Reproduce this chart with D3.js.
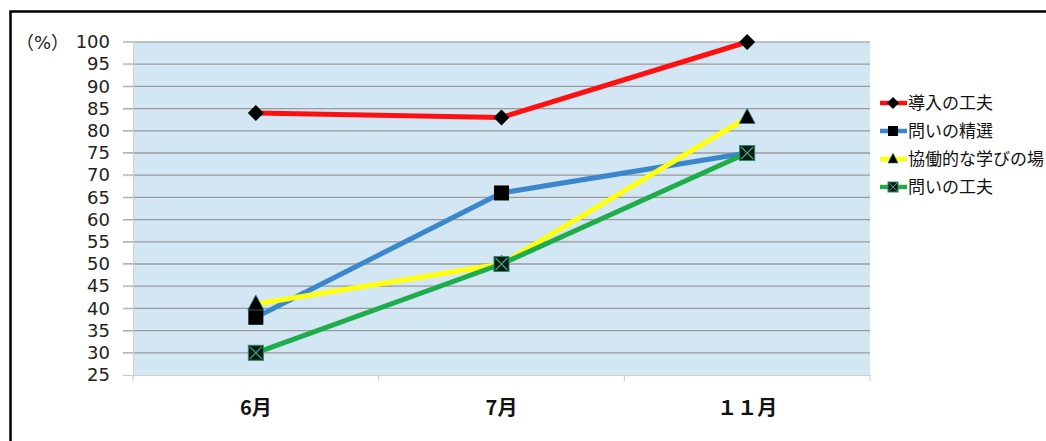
<!DOCTYPE html>
<html>
<head>
<meta charset="utf-8">
<script src="https://cdn.jsdelivr.net/npm/d3@7"></script>
<style>
  body { margin: 0; background: #fff; }
</style>
</head>
<body>
<script>
const months = ["6月", "7月", "１１月"];
const seriesNames = ["導入の工夫", "問いの精選", "協働的な学びの場", "問いの工夫"];
const dounyu = [84, 83, 100];
const seisen = [38, 66, 75];
const kyodo = [41, 50, 83];
const kufu = [30, 50, 75];
const yTicks = d3.range(25, 101, 5);

const W = 1046, H = 441;
const plotL = 133, plotR = 870, plotT = 42, plotB = 375;
const jpFont = "'Noto Sans CJK JP', sans-serif";

const series = [
  {name: seriesNames[0], values: dounyu, color: "#ff1010", marker: "diamond"},
  {name: seriesNames[1], values: seisen, color: "#3a87cc", marker: "square"},
  {name: seriesNames[2], values: kyodo, color: "#ffff10", marker: "triangle"},
  {name: seriesNames[3], values: kufu, color: "#1fad4c", marker: "xsquare"}
];

const svg = d3.select("body").append("svg")
  .attr("width", W).attr("height", H);

// frame
svg.append("path")
  .attr("d", `M10.5,${H} V11.5 H${W}`)
  .attr("fill", "none").attr("stroke", "#000").attr("stroke-width", 2.5);

const x = d3.scaleBand().domain(months).range([plotL, plotR]);
const y = d3.scaleLinear().domain([25, 100]).range([plotB, plotT]);

svg.append("rect")
  .attr("x", plotL).attr("y", plotT)
  .attr("width", plotR - plotL).attr("height", plotB - plotT)
  .attr("fill", "#d3e6f4");

// grid
svg.append("g").selectAll("line").data(yTicks.filter(d => d > 25)).join("line")
  .attr("x1", plotL - 10).attr("x2", plotR)
  .attr("y1", d => y(d)).attr("y2", d => y(d))
  .attr("stroke", d => d === 100 ? "#b0b0b0" : "#9a9a9a").attr("stroke-width", 1.3);

// y axis labels
const yAxis = svg.append("g").attr("transform", `translate(${plotL},0)`)
  .call(d3.axisLeft(y).tickValues(yTicks).tickSize(10).tickPadding(13));
yAxis.attr("font-family", "'DejaVu Sans', sans-serif").attr("font-size", 18);
yAxis.select(".domain").attr("stroke", "#d0d0d0");
yAxis.selectAll(".tick line").attr("stroke", "#c8c8c8");
yAxis.selectAll("text").attr("fill", "#222");

// unit label (%)
const unit = svg.append("text").attr("x", 16).attr("y", 49)
  .attr("font-size", 18).attr("fill", "#222");
unit.append("tspan").attr("font-family", jpFont).text("（");
unit.append("tspan").attr("font-family", "'DejaVu Sans', sans-serif").text("%");
unit.append("tspan").attr("font-family", jpFont).text("）");

// x axis
const xAxis = svg.append("g").attr("transform", `translate(0,${plotB})`)
  .call(d3.axisBottom(x).tickSize(0).tickPadding(26));
xAxis.attr("font-family", jpFont).attr("font-size", 20);
xAxis.select(".domain").attr("stroke", "#d0d0d0");
xAxis.selectAll("text").attr("font-weight", "bold").attr("fill", "#111");
svg.append("g").selectAll("line").data(d3.range(months.length + 1)).join("line")
  .attr("x1", i => plotL + i * x.bandwidth()).attr("x2", i => plotL + i * x.bandwidth())
  .attr("y1", plotB).attr("y2", plotB + 6)
  .attr("stroke", "#c8c8c8");

const cx = m => x(m) + x.bandwidth() / 2;
const line = d3.line().x((d, i) => cx(months[i])).y(d => y(d));

function drawMarker(g, type, px, py) {
  if (type === "diamond") {
    g.append("path").attr("d", `M${px},${py - 8} L${px + 8},${py} L${px},${py + 8} L${px - 8},${py} Z`)
      .attr("fill", "#000");
  } else if (type === "square") {
    g.append("rect").attr("x", px - 7.5).attr("y", py - 7.5).attr("width", 15).attr("height", 15)
      .attr("fill", "#000");
  } else if (type === "triangle") {
    g.append("path").attr("d", `M${px},${py - 9} L${px + 8},${py + 6} L${px - 8},${py + 6} Z`)
      .attr("fill", "#000").attr("stroke", "#2a7d7d").attr("stroke-width", 0.8);
  } else {
    g.append("rect").attr("x", px - 7.5).attr("y", py - 7.5).attr("width", 15).attr("height", 15)
      .attr("fill", "#0c1a14").attr("stroke", "#2d8c6a").attr("stroke-width", 1);
    g.append("path").attr("d", `M${px - 6},${py - 6} L${px + 6},${py + 6} M${px + 6},${py - 6} L${px - 6},${py + 6}`)
      .attr("stroke", "#3fa27c").attr("stroke-width", 1.2);
  }
}

series.forEach(s => {
  svg.append("path").datum(s.values)
    .attr("d", line).attr("fill", "none")
    .attr("stroke", s.color).attr("stroke-width", 5);
});
series.forEach(s => {
  const g = svg.append("g");
  s.values.forEach((v, i) => drawMarker(g, s.marker, cx(months[i]), y(v)));
});

// legend
const leg = svg.append("g").attr("font-family", jpFont);
series.forEach((s, i) => {
  const ly = 103 + i * 28;
  leg.append("line").attr("x1", 880).attr("x2", 907).attr("y1", ly).attr("y2", ly)
    .attr("stroke", s.color).attr("stroke-width", 4.5);
  const g = leg.append("g");
  if (s.marker === "diamond") {
    g.append("path").attr("d", `M893,${ly - 6} L899,${ly} L893,${ly + 6} L887,${ly} Z`).attr("fill", "#000");
  } else if (s.marker === "square") {
    g.append("rect").attr("x", 888).attr("y", ly - 5).attr("width", 10).attr("height", 10).attr("fill", "#000");
  } else if (s.marker === "triangle") {
    g.append("path").attr("d", `M893,${ly - 6} L898,${ly + 4} L888,${ly + 4} Z`).attr("fill", "#000")
      .attr("stroke", "#2a7d7d").attr("stroke-width", 0.6);
  } else {
    g.append("rect").attr("x", 888).attr("y", ly - 5).attr("width", 10).attr("height", 10)
      .attr("fill", "#0c1a14").attr("stroke", "#2d8c6a");
    g.append("path").attr("d", `M889,${ly - 4} L897,${ly + 4} M897,${ly - 4} L889,${ly + 4}`)
      .attr("stroke", "#3fa27c");
  }
  leg.append("text").attr("x", 908).attr("y", ly).attr("dy", "0.36em")
    .attr("font-size", 17).attr("fill", "#111").text(s.name);
});
</script>
</body>
</html>
